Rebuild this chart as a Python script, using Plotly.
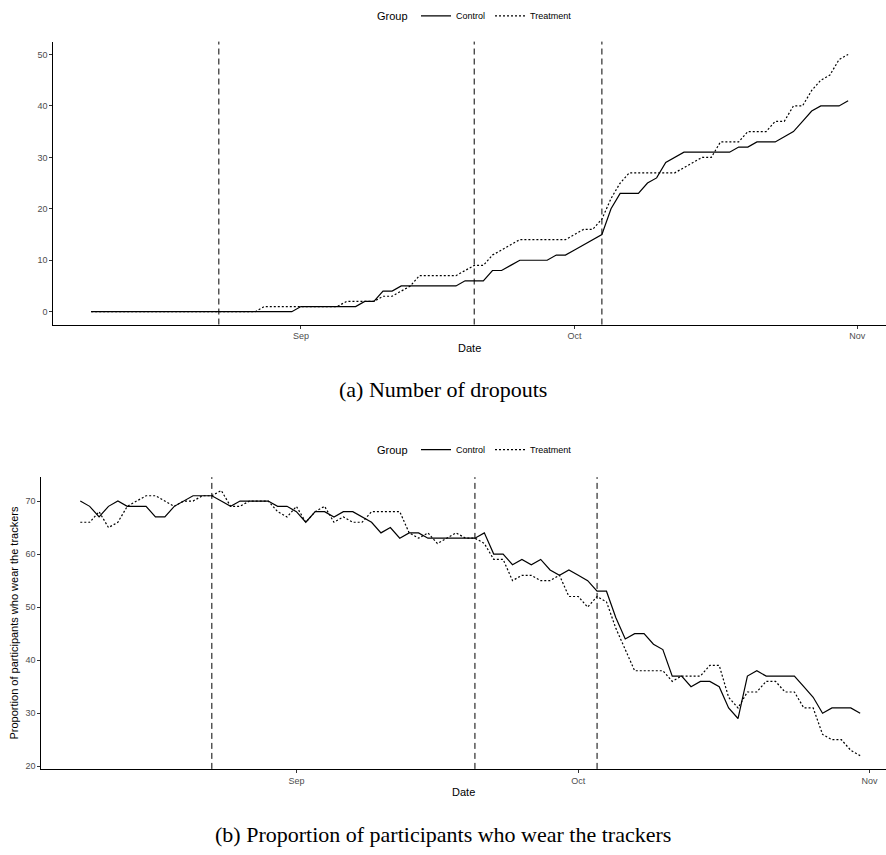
import pandas as pd
import plotly.graph_objects as go

# ---------------- data ----------------
dates = pd.date_range("2019-08-09", "2019-10-31", freq="D")

dropout_control = [
    0, 0, 0, 0, 0, 0, 0, 0, 0, 0, 0, 0, 0, 0, 0, 0, 0, 0, 0, 0, 0, 0, 0,
    1, 1, 1, 1, 1, 1, 1, 2, 2, 4, 4, 5, 5, 5, 5, 5, 5, 5,
    6, 6, 6, 8, 8, 9, 10, 10, 10, 10, 11, 11, 12, 13, 14, 15,
    20, 23, 23, 23, 25, 26, 29, 30, 31, 31, 31, 31, 31, 31,
    32, 32, 33, 33, 33, 34, 35, 37, 39, 40, 40, 40, 41,
]
dropout_treatment = [
    0, 0, 0, 0, 0, 0, 0, 0, 0, 0, 0, 0, 0, 0, 0, 0, 0, 0, 0,
    1, 1, 1, 1, 1, 1, 1, 1, 1, 2, 2, 2, 2, 3, 3, 4, 5, 7, 7, 7, 7, 7,
    8, 9, 9, 11, 12, 13, 14, 14, 14, 14, 14, 14,
    15, 16, 16, 18, 22, 25, 27, 27, 27, 27, 27, 27,
    28, 29, 30, 30, 33, 33, 33, 35, 35, 35, 37, 37, 40, 40,
    43, 45, 46, 49, 50,
]

wear_control = [
    70, 69, 67, 69, 70, 69, 69, 69, 67, 67, 69, 70, 71, 71, 71, 70, 69, 70,
    70, 70, 70, 69, 69, 68, 66, 68, 68, 67, 68, 68, 67, 66, 64, 65, 63, 64,
    64, 63, 63, 63, 63, 63, 63,
    64, 60, 60, 58, 59, 58, 59, 57, 56, 57, 56, 55, 53, 53, 48, 44, 45, 45,
    43, 42, 37, 37, 35, 36, 36, 35, 31, 29, 37, 38, 37, 37, 37, 37, 35, 33,
    30, 31, 31, 31, 30,
]
wear_treatment = [
    66, 66, 68, 65, 66, 69, 70, 71, 71, 70, 69, 70, 70, 71, 71, 72, 69, 69,
    70, 70, 70, 68, 67, 69, 66, 68, 69, 66, 67, 66, 66, 68, 68, 68, 68, 64,
    63, 64, 62, 63, 64, 63, 63,
    62, 59, 59, 55, 56, 56, 55, 55, 56, 52, 52, 50, 52, 51, 46, 42, 38, 38,
    38, 38, 36, 37, 37, 37, 39, 39, 33, 31, 34, 34, 36, 36, 34, 34, 31, 31,
    26, 25, 25, 23, 22,
]

vlines_top = ["2019-08-23", "2019-09-20", "2019-10-04"]
vlines_bottom = ["2019-08-23", "2019-09-20", "2019-10-03"]

month_ticks = ["2019-09-01", "2019-10-01", "2019-11-01"]
month_labels = ["Sep", "Oct", "Nov"]

legend_title = "Group"
captions = ["(a) Number of dropouts",
            "(b) Proportion of participants who wear the trackers"]

# ---------------- layout helpers ----------------
W, H = 886, 855
def fx(p):
    return p / W
def fy(p):
    return 1 - p / H

SANS = "Liberation Sans, Arial, Helvetica, sans-serif"
SERIF = "Liberation Serif, Times New Roman, serif"
LINE_W = 1.2
DOT = "2px,2px"

span = dates[-1] - dates[0]
x_start = dates[0] - 0.05 * span
x_end_top = dates[-1] + 0.05 * span
x_end_bottom = x_start + pd.Timedelta(days=89.9)

def yrange(*series):
    lo = min(min(s) for s in series)
    hi = max(max(s) for s in series)
    pad = 0.05 * (hi - lo)
    return [lo - pad, hi + pad]

fig = go.Figure()

fig.add_trace(go.Scatter(x=dates, y=dropout_control, mode="lines", name="Control",
                         line=dict(color="black", width=LINE_W),
                         xaxis="x", yaxis="y", legend="legend"))
fig.add_trace(go.Scatter(x=dates, y=dropout_treatment, mode="lines", name="Treatment",
                         line=dict(color="black", width=LINE_W, dash=DOT),
                         xaxis="x", yaxis="y", legend="legend"))
fig.add_trace(go.Scatter(x=dates, y=wear_control, mode="lines", name="Control",
                         line=dict(color="black", width=LINE_W),
                         xaxis="x2", yaxis="y2", legend="legend2"))
fig.add_trace(go.Scatter(x=dates, y=wear_treatment, mode="lines", name="Treatment",
                         line=dict(color="black", width=LINE_W, dash=DOT),
                         xaxis="x2", yaxis="y2", legend="legend2"))

axis_common = dict(
    showline=True, linecolor="black", linewidth=1,
    ticks="outside", ticklen=3, tickwidth=1, tickcolor="#333333",
    showgrid=False, zeroline=False,
    tickfont=dict(family=SANS, size=9, color="#4d4d4d"),
)

xaxis_common = dict(
    axis_common, type="date",
    tickmode="array", tickvals=month_ticks, ticktext=month_labels,
    title=dict(text="Date", font=dict(family=SANS, size=11, color="black"), standoff=3),
)

legend_common = dict(
    orientation="h", x=fx(416), xanchor="left", yanchor="middle",
    font=dict(family=SANS, size=9, color="black"),
    itemwidth=30, bgcolor="rgba(0,0,0,0)",
)

fig.update_layout(
    width=W, height=H,
    margin=dict(l=0, r=0, t=0, b=0),
    paper_bgcolor="white", plot_bgcolor="white",
    showlegend=True,
    xaxis=dict(xaxis_common, domain=[fx(53.3), 1.0], range=[x_start, x_end_top], anchor="y"),
    yaxis=dict(axis_common, domain=[fy(325.3), fy(41.7)],
               range=yrange(dropout_control, dropout_treatment),
               tickvals=[0, 10, 20, 30, 40, 50], anchor="x"),
    xaxis2=dict(xaxis_common, domain=[fx(41.3), 1.0], range=[x_start, x_end_bottom], anchor="y2"),
    yaxis2=dict(axis_common, domain=[fy(770.7), fy(478.3)],
                range=yrange(wear_control, wear_treatment),
                tickvals=[20, 30, 40, 50, 60, 70], anchor="x2",
                title=dict(text="Proportion of participants who wear the trackers",
                           font=dict(family=SANS, size=11, color="black"), standoff=4)),
    legend=dict(legend_common, y=fy(16)),
    legend2=dict(legend_common, y=fy(450.7)),
)

for ypx in [16, 450.7]:
    fig.add_annotation(text=legend_title, xref="paper", yref="paper", x=fx(410), y=fy(ypx),
                       xanchor="right", yanchor="middle", showarrow=False,
                       font=dict(family=SANS, size=11, color="black"))

for d in vlines_top:
    fig.add_shape(type="line", xref="x", yref="y domain", x0=d, x1=d, y0=0, y1=1,
                  line=dict(color="black", width=1, dash="6px,4px"), layer="below")
for d in vlines_bottom:
    fig.add_shape(type="line", xref="x2", yref="y2 domain", x0=d, x1=d, y0=0, y1=1,
                  line=dict(color="black", width=1, dash="6px,4px"), layer="below")

for text, ypx in zip(captions, [390, 836]):
    fig.add_annotation(text=text, xref="paper", yref="paper", x=0.5, y=fy(ypx),
                       xanchor="center", yanchor="middle", showarrow=False,
                       font=dict(family=SERIF, size=22, color="black"))

fig.write_html("out.html")
